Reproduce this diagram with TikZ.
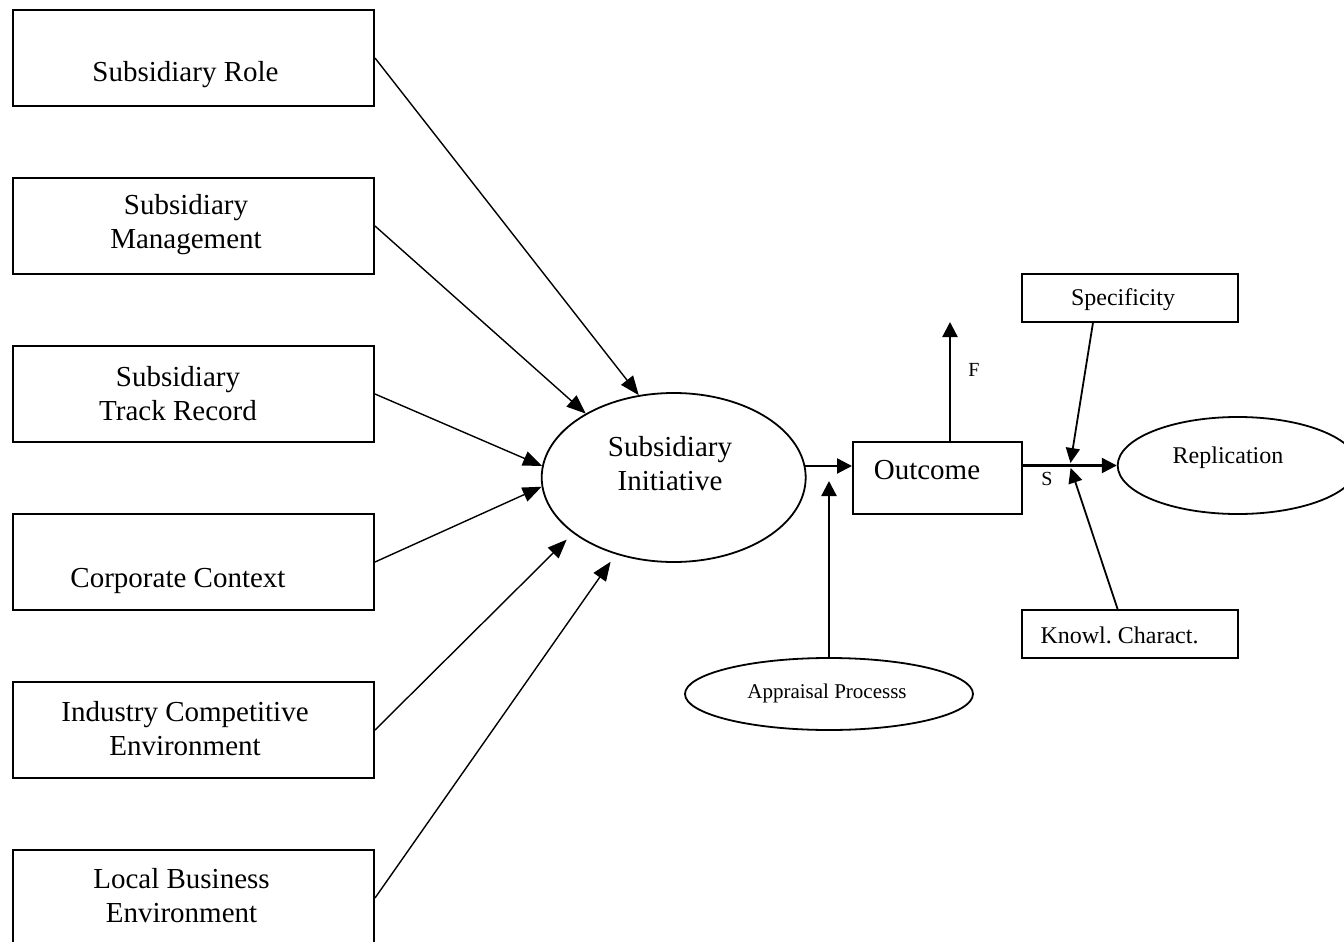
\documentclass[tikz,border=0pt]{standalone}
\usepackage{fontspec}
\setmainfont{Liberation Serif}
\usetikzlibrary{arrows.meta,shapes.geometric,calc}
\frenchspacing
\newcommand{\mytwolines}[2]{\vtop{\baselineskip=34.5pt\halign{\hfil##\hfil\cr #1\cr #2\cr}}}
\begin{document}
\begin{tikzpicture}[x=1pt,y=-1pt,
  box/.style={draw, rectangle, line width=2pt, inner sep=0pt},
  oval/.style={draw, ellipse, line width=1.8pt, inner sep=0pt},
  big/.style={font=\fontsize{29}{34.5}\selectfont, anchor=base, inner sep=0pt},
  small/.style={font=\fontsize{24}{28}\selectfont, anchor=base, inner sep=0pt},
  tiny/.style={font=\fontsize{20}{24}\selectfont, anchor=base, inner sep=0pt},
  inarrow/.style={line width=1.4pt, -{Triangle[length=19pt,width=15pt]}},
  outarrow/.style={line width=2.3pt, -{Triangle[length=15pt,width=15pt]}},
  modarrow/.style={line width=1.8pt, -{Triangle[length=15pt,width=14pt]}}]
\useasboundingbox (0,0) rectangle (1344,942);
\clip (0,0) rectangle (1344,942);
\fill[white] (0,0) rectangle (1344,942);

% left boxes
\node[box, minimum width=361pt, minimum height=96pt] (b1) at (193.5,58) {};
\node[box, minimum width=361pt, minimum height=96pt] (b2) at (193.5,226) {};
\node[box, minimum width=361pt, minimum height=96pt] (b3) at (193.5,394) {};
\node[box, minimum width=361pt, minimum height=96pt] (b4) at (193.5,562) {};
\node[box, minimum width=361pt, minimum height=96pt] (b5) at (193.5,730) {};
\node[box, minimum width=361pt, minimum height=96pt] (b6) at (193.5,898) {};

\node[big] (t1) at (185.5,81.5) {Subsidiary Role};
\node[big] (t2) at (186,214) {\mytwolines{Subsidiary}{Management}};
\node[big] (t3) at (178,386) {\mytwolines{Subsidiary}{Track Record}};
\node[big] (t4) at (178,587) {Corporate Context};
\node[big] (t5) at (185,721) {\mytwolines{Industry Competitive}{Environment}};
\node[big] (t6) at (181.5,888) {\mytwolines{Local Business}{Environment}};

% central ellipse
\node[oval, minimum width=264pt, minimum height=169pt] (si) at (673.7,477.5) {};
\node[big] (tsi) at (670,456) {\mytwolines{Subsidiary}{Initiative}};

% outcome
\node[box, minimum width=169pt, minimum height=72pt] (out) at (937.5,478) {};
\node[big] (tout) at (927,479) {Outcome};

% specificity / knowledge
\node[box, minimum width=216pt, minimum height=48pt] (spec) at (1130,298) {};
\node[small] (tspec) at (1123,305) {Specificity};
\node[box, minimum width=216pt, minimum height=48pt] (kn) at (1130,634) {};
\node[small] (tkn) at (1119.5,643) {Knowl. Charact.};

% replication
\node[oval, minimum width=240pt, minimum height=97pt] (rep) at (1237.7,465.5) {};
\node[small] (trep) at (1228,463) {Replication};

% appraisal
\node[oval, minimum width=288pt, minimum height=72pt] (ap) at (829,694) {};
\node[font=\fontsize{21}{25}\selectfont, anchor=base, inner sep=0pt] (tap) at (827,698) {Appraisal Processs};

% labels
\node[tiny] (lf) at (974,376) {F};
\node[tiny] (ls) at (1047,485) {S};

% connectors into the initiative
\draw[inarrow] (b1.east) -- (si.113.6);
\draw[inarrow] (b2.east) -- (si.144.6);
\draw[inarrow] (b3.east) -- (si.175.4);
\draw[inarrow] (b4.east) -- (si.184.7);
\draw[inarrow, shorten >=9pt] (b5.east) -- (si.209.4);
\draw[inarrow, shorten >=9pt] (b6.east) -- (si.233.9);

% right part
\draw[outarrow] (si.5) -- (si.5 -| out.west);
\coordinate (aptip) at (829,481);
\draw[outarrow] (ap.north) -- (aptip);
\coordinate (ftip) at (950,322);
\draw[outarrow] (ftip |- out.north) -- (ftip);
\draw[outarrow] (out.east |- rep.west) -- (rep.west);
\coordinate (junc) at (1070,466);
\draw[modarrow, shorten >=3pt] ($(spec.south west)!0.33!(spec.south east)$) -- (junc);
\draw[modarrow, shorten >=2pt] ($(kn.north west)!0.443!(kn.north east)$) -- (junc);
\end{tikzpicture}
\end{document}
